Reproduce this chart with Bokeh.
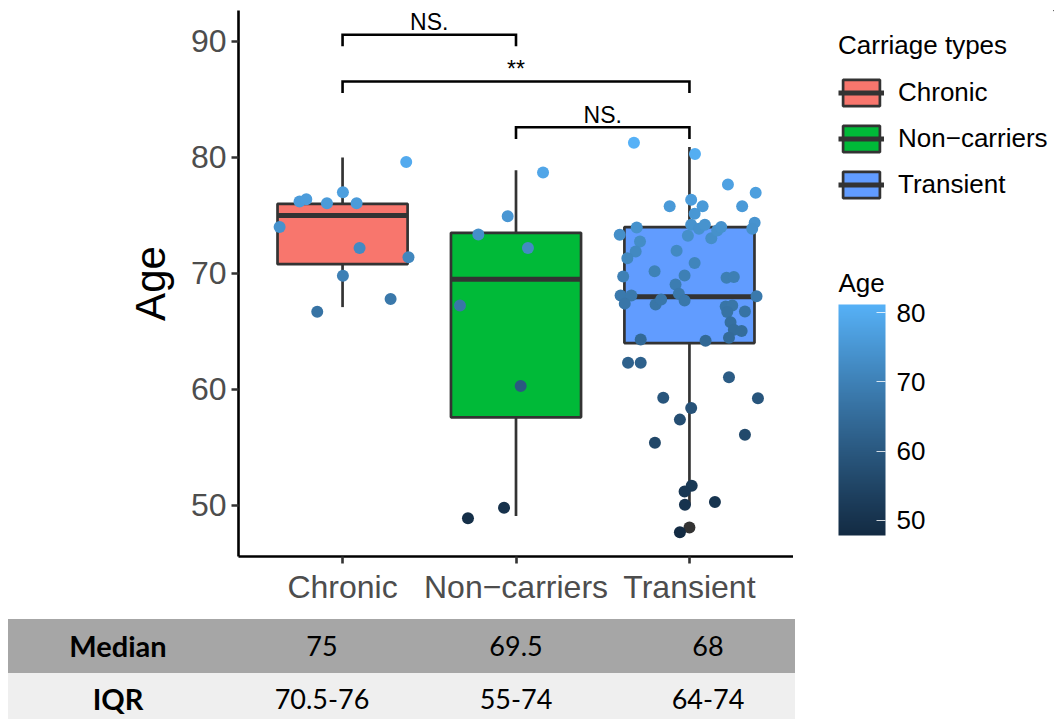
from bokeh.plotting import figure
from bokeh.models import (Range1d, FixedTicker, ColumnDataSource, LinearColorMapper,
                          ColorBar, Legend, LegendItem, Label, Div)
from bokeh.layouts import column, row
from bokeh.embed import file_html
from bokeh.resources import INLINE
from bokeh.core.properties import value

# ---------------- data ----------------
categories = ["Chronic", "Non\u2212carriers", "Transient"]
box_colors = ["#F8766D", "#00BA38", "#619CFF"]
q1 = [70.8, 57.6, 64.0]
median = [75.0, 69.5, 68.0]
q3 = [76.0, 73.5, 74.0]
whisker_low = [67.1, 49.1, 50.0]
whisker_high = [80.0, 78.9, 80.9]
outlier_group = [3]
outlier_age = [48.1]

chronic_age = [79.6, 77.0, 76.2, 76.4, 76.06, 76.06, 74.0, 72.2, 71.4, 69.8, 67.8, 66.7]
chronic_jit = [0.367, 0.002, -0.248, -0.209, -0.090, 0.081, -0.363, 0.098, 0.380, 0.002, 0.277, -0.146]

noncarrier_age = [78.7, 74.94, 73.36, 72.2, 67.24, 60.3, 49.8, 48.9]
noncarrier_jit = [0.156, -0.048, -0.217, 0.069, -0.323, 0.027, -0.069, -0.277]

transient_age = [81.27, 80.3, 77.67, 76.96, 75.8, 76.35, 75.8, 75.8, 75.14, 74.37,
                 73.85, 73.97, 73.33, 72.76, 71.9, 71.32, 69.74, 70.2, 71.95, 73.25,
                 74.2, 73.85, 74.2, 70.9, 69.83, 69.05, 73.04, 73.7, 74.0, 69.63,
                 69.7, 68.1, 68.1, 67.4, 67.33, 67.76, 68.25, 67.67, 68.04, 67.16,
                 67.24, 66.67, 66.72, 65.8, 65.15, 65.03, 64.46, 64.3, 64.2, 62.3,
                 62.3, 61.06, 59.28, 59.25, 58.4, 57.4, 56.1, 55.4, 51.7, 51.2,
                 50.06, 50.3, 47.7]
transient_jit = [-0.320, 0.032, 0.222, 0.382, -0.114, 0.010, 0.076, 0.304, 0.030, 0.376,
                 0.362, -0.304, -0.402, -0.285, -0.310, -0.358, -0.382, -0.201, -0.074, -0.009,
                 0.010, 0.055, 0.089, 0.030, -0.028, -0.080, 0.126, 0.160, 0.183, 0.214,
                 0.256, -0.397, -0.335, -0.373, -0.195, -0.163, -0.061, -0.028, 0.387, 0.209,
                 0.247, 0.218, 0.320, 0.237, 0.256, 0.301, 0.228, -0.281, 0.093, -0.354,
                 -0.281, 0.228, -0.151, 0.395, 0.010, -0.055, 0.320, -0.199, 0.013, -0.028,
                 -0.026, 0.147, -0.055]

cmp_from = [1, 1, 2]
cmp_to = [2, 3, 3]
cmp_y = [90.58, 86.55, 82.6]
cmp_label = ["NS.", "**", "NS."]

color_low, color_high = 47.8, 81.2
colorbar_ticks = [50, 60, 70, 80]
y_ticks = [50, 60, 70, 80, 90]

table_rows = ["Median", "IQR"]
table_median = ["75", "69.5", "68"]
table_iqr = ["70.5-76", "55-74", "64-74"]

# ---------------- palette (ggplot default gradient, Lab interpolation) ----------------
def _hex_to_lab(h):
    rgb = [int(h[i:i + 2], 16) / 255 for i in (1, 3, 5)]
    lin = [c / 12.92 if c <= 0.04045 else ((c + 0.055) / 1.055) ** 2.4 for c in rgb]
    r, g, b = lin
    X = (0.4124 * r + 0.3576 * g + 0.1805 * b) / 0.95047
    Y = (0.2126 * r + 0.7152 * g + 0.0722 * b)
    Z = (0.0193 * r + 0.1192 * g + 0.9505 * b) / 1.08883
    f = lambda t: t ** (1 / 3) if t > 0.008856 else 7.787 * t + 16 / 116
    fx, fy, fz = f(X), f(Y), f(Z)
    return (116 * fy - 16, 500 * (fx - fy), 200 * (fy - fz))

def _lab_to_hex(L, a, b):
    fy = (L + 16) / 116
    fx = fy + a / 500
    fz = fy - b / 200
    finv = lambda t: t ** 3 if t ** 3 > 0.008856 else (t - 16 / 116) / 7.787
    X, Y, Z = 0.95047 * finv(fx), finv(fy), 1.08883 * finv(fz)
    r = 3.2406 * X - 1.5372 * Y - 0.4986 * Z
    g = -0.9689 * X + 1.8758 * Y + 0.0415 * Z
    bb = 0.0557 * X - 0.2040 * Y + 1.0570 * Z
    def gam(c):
        c = max(0.0, min(1.0, c))
        return 12.92 * c if c <= 0.0031308 else 1.055 * c ** (1 / 2.4) - 0.055
    return "#%02x%02x%02x" % tuple(int(round(gam(c) * 255)) for c in (r, g, bb))

lab0, lab1 = _hex_to_lab("#132B43"), _hex_to_lab("#56B1F7")
palette = [_lab_to_hex(*[lab0[k] + (lab1[k] - lab0[k]) * i / 255 for k in range(3)]) for i in range(256)]
mapper = LinearColorMapper(palette=palette, low=color_low, high=color_high)

FONT = "Liberation Sans"
TOP, BOTTOM = 10, 54

# ---------------- main figure ----------------
p = figure(width=793, height=610, x_range=Range1d(0.4, 3.6), y_range=Range1d(45.6, 92.67),
           output_backend="svg", toolbar_location=None,
           min_border_left=238, min_border_right=0, min_border_top=TOP, min_border_bottom=BOTTOM)
p.outline_line_color = None
p.xgrid.visible = False
p.ygrid.visible = False

for ax in (p.xaxis, p.yaxis):
    ax.axis_line_color = "black"
    ax.axis_line_width = 2.6
    ax.major_tick_line_color = "#333333"
    ax.major_tick_line_width = 2.6
    ax.major_tick_out = 7
    ax.major_tick_in = 0
    ax.minor_tick_line_color = None
    ax.major_label_text_font = FONT
    ax.major_label_text_font_size = "32px"
    ax.major_label_text_color = "#4D4D4D"
    ax.major_label_standoff = 5

idx = list(range(1, len(categories) + 1))
p.xaxis.ticker = FixedTicker(ticks=idx)
p.xaxis.major_label_overrides = {i: c for i, c in zip(idx, categories)}
p.yaxis.ticker = FixedTicker(ticks=y_ticks)
p.yaxis.axis_label = "Age"
p.yaxis.axis_label_text_font = FONT
p.yaxis.axis_label_text_font_size = "42px"
p.yaxis.axis_label_text_font_style = "normal"
p.yaxis.axis_label_text_color = "black"
p.yaxis.axis_label_standoff = 14

half = 0.375
box_src = ColumnDataSource(dict(
    x=idx, left=[i - half for i in idx], right=[i + half for i in idx],
    q1=q1, q3=q3, med=median, lo=whisker_low, hi=whisker_high,
    color=box_colors, label=categories))

def draw_boxes(fig):
    fig.segment(x0="x", y0="q3", x1="x", y1="hi", source=box_src, line_color="#333333", line_width=2.7)
    fig.segment(x0="x", y0="lo", x1="x", y1="q1", source=box_src, line_color="#333333", line_width=2.7)
    b = fig.vbar(x="x", width=2 * half, bottom="q1", top="q3", source=box_src,
                 fill_color="color", line_color="#333333", line_width=2.7)
    m = fig.segment(x0="left", y0="med", x1="right", y1="med", source=box_src,
                    line_color="#333333", line_width=5)
    return b, m

draw_boxes(p)
p.scatter(outlier_group, outlier_age, size=12, fill_color="#333333", line_color=None)

px, py = [], []
for gi, (ages, jit) in enumerate([(chronic_age, chronic_jit),
                                  (noncarrier_age, noncarrier_jit),
                                  (transient_age, transient_jit)]):
    for a, j in zip(ages, jit):
        px.append(idx[gi] + j)
        py.append(a)
pt_src = ColumnDataSource(dict(x=px, age=py))
p.scatter("x", "age", source=pt_src, size=12,
          fill_color={"field": "age", "transform": mapper}, line_color=None)

# significance brackets
tick_len = 1.0
label_gap = 1.1
xs, ys, tx, ty = [], [], [], []
for a, b, y in zip(cmp_from, cmp_to, cmp_y):
    xs.append([a, a, b, b])
    ys.append([y - tick_len, y, y, y - tick_len])
    tx.append((a + b) / 2)
    ty.append(y + label_gap)
p.multi_line(xs, ys, line_color="black", line_width=2.6, line_join="miter")
p.text(x=tx, y=ty, text=cmp_label, text_align="center", text_baseline="alphabetic",
       text_font=value(FONT), text_font_size="23px", text_color="black")

# ---------------- legend panel (its own figure, same frame top/bottom) ----------------
g = figure(width=261, height=610, x_range=Range1d(-100, -99), y_range=Range1d(-100, -99),
           output_backend="svg", toolbar_location=None,
           min_border_left=0, min_border_right=0, min_border_top=TOP, min_border_bottom=BOTTOM,
           x_axis_location=None, y_axis_location=None)
g.outline_line_color = None
g.xgrid.visible = False
g.ygrid.visible = False
lb, lm = draw_boxes(g)

legend = Legend(items=[LegendItem(label=categories[i], renderers=[lb, lm], index=i)
                       for i in range(len(categories))],
                location=(45, 355), title="Carriage types",
                title_text_font=FONT, title_text_font_size="26px", title_text_font_style="normal",
                title_text_color="black", title_standoff=15,
                label_text_font=FONT, label_text_font_size="26px", label_text_color="black",
                glyph_width=46, glyph_height=33, spacing=13, label_standoff=14,
                padding=0, margin=0, border_line_color=None, background_fill_alpha=0)
g.add_layout(legend)

cb = ColorBar(color_mapper=mapper, location=(45, 21), width=47, height=231, padding=0,
              ticker=FixedTicker(ticks=colorbar_ticks),
              major_label_text_font=FONT, major_label_text_font_size="26px",
              major_label_text_color="black", label_standoff=11,
              major_tick_line_color="white", major_tick_line_alpha=0.8, major_tick_in=9,
              major_tick_out=0, minor_tick_line_color=None, bar_line_color=None,
              border_line_color=None, background_fill_alpha=0, orientation="vertical")
g.add_layout(cb)
g.add_layout(Label(x=45, y=274, x_units="screen", y_units="screen", text="Age",
                   text_font=FONT, text_font_size="26px", text_color="black",
                   text_align="left", text_baseline="alphabetic"))

# ---------------- table ----------------
row_fill = ["#A6A6A6", "#EFEFEF"]
row_top = [9, 63]
row_h = [54, 46]
col_cx = [118, 322, 516, 708]
html = ['<div style="position:relative;width:1054px;height:109px;font-family:Lato,sans-serif;'
        'font-size:27px;color:#000;">']
for rt, rh, rf in zip(row_top, row_h, row_fill):
    html.append(f'<div style="position:absolute;left:8px;top:{rt}px;width:787px;height:{rh}px;'
                f'background:{rf};"></div>')
for r, (lab, vals) in enumerate(zip(table_rows, [table_median, table_iqr])):
    cells = [(lab, True)] + [(v, False) for v in vals]
    box_h = row_h[r] if r == 0 else 52
    for (txt, bold), cx in zip(cells, col_cx):
        weight = "font-weight:bold;font-size:29px;" if bold else ""
        html.append(f'<div style="position:absolute;left:{cx - 100}px;width:200px;'
                    f'top:{row_top[r]}px;height:{box_h}px;line-height:{box_h}px;'
                    f'text-align:center;white-space:nowrap;{weight}">{txt}</div>')
html.append('</div>')
table = Div(text="".join(html), width=1054, height=109, margin=0)

layout = column(row(p, g, spacing=0), table, spacing=0)
open("out.html", "w").write(file_html(layout, INLINE))
